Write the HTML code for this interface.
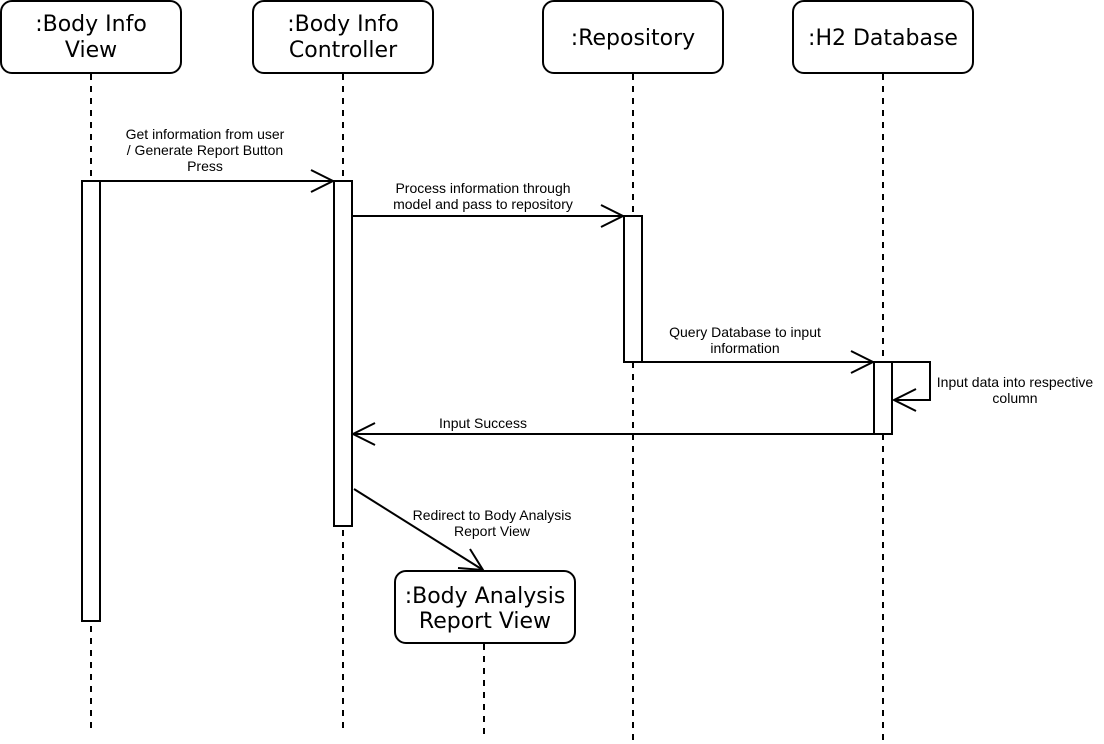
<!DOCTYPE html>
<html><head><meta charset="utf-8"><style>html,body{margin:0;padding:0;background:#fff}svg{display:block}</style></head>
<body>
<svg width="1104" height="744" viewBox="0 0 1104 744" xmlns="http://www.w3.org/2000/svg">
<rect width="1104" height="744" fill="#fff"/>
<g fill="#fff" stroke="#000" stroke-width="2">
<rect x="1" y="1" width="180" height="72" rx="11"/>
<rect x="253" y="1" width="180" height="72" rx="11"/>
<rect x="543" y="1" width="180" height="72" rx="11"/>
<rect x="793" y="1" width="180" height="72" rx="11"/>
<rect x="395" y="571" width="180" height="72" rx="11"/>
</g>
<g stroke="#000" stroke-width="2" stroke-dasharray="6,6" fill="none">
<line x1="91" y1="74" x2="91" y2="730"/>
<line x1="343" y1="74" x2="343" y2="730"/>
<line x1="633" y1="74" x2="633" y2="740"/>
<line x1="883" y1="74" x2="883" y2="740"/>
<line x1="484" y1="644" x2="484" y2="740"/>
</g>
<g fill="#fff" stroke="#000" stroke-width="2">
<rect x="82" y="181" width="18" height="440"/>
<rect x="334" y="181" width="18" height="345"/>
<rect x="624" y="216" width="18" height="146"/>
<rect x="874" y="362" width="18" height="72"/>
</g>
<g stroke="#000" stroke-width="2" fill="none">
<line x1="100" y1="181" x2="333" y2="181"/><polyline points="311,170 333,181 311,192"/>
<line x1="352" y1="216" x2="623" y2="216"/><polyline points="601,205 623,216 601,227"/>
<line x1="642" y1="362" x2="873" y2="362"/><polyline points="851,351 873,362 851,373"/>
<polyline points="892,362 930,362 930,400 894,400"/><polyline points="916,389 894,400 916,411"/>
<line x1="874" y1="434" x2="353" y2="434"/><polyline points="375,423 353,434 375,445"/>
<line x1="354" y1="489" x2="483" y2="570"/><polyline points="458,568 483,570 470,549"/>
</g>
<g font-family="DejaVu Sans, sans-serif" font-size="22" text-anchor="middle" fill="#000">
<text x="91" y="31">:Body Info</text><text x="91" y="57">View</text>
<text x="343" y="31">:Body Info</text><text x="343" y="57">Controller</text>
<text x="633" y="45">:Repository</text>
<text x="883" y="45">:H2 Database</text>
<text x="485" y="603">:Body Analysis</text><text x="485" y="628">Report View</text>
</g>
<g font-family="Liberation Sans, Arial, sans-serif" font-size="14" text-anchor="middle" fill="#000" xml:space="preserve">
<text x="205" y="139">Get information from user</text>
<text x="205" y="155">/ Generate Report Button</text>
<text x="205" y="171">Press</text>
<text x="483" y="193">Process information through</text>
<text x="483" y="209">model and pass to repository</text>
<text x="745" y="337">Query Database to input</text>
<text x="745" y="353">information</text>
<text x="1015" y="387">Input data into  respective</text>
<text x="1015" y="403">column</text>
<text x="483" y="428">Input Success</text>
<text x="492" y="520">Redirect to  Body Analysis</text>
<text x="492" y="536">Report View</text>
</g>
</svg>
</body></html>
